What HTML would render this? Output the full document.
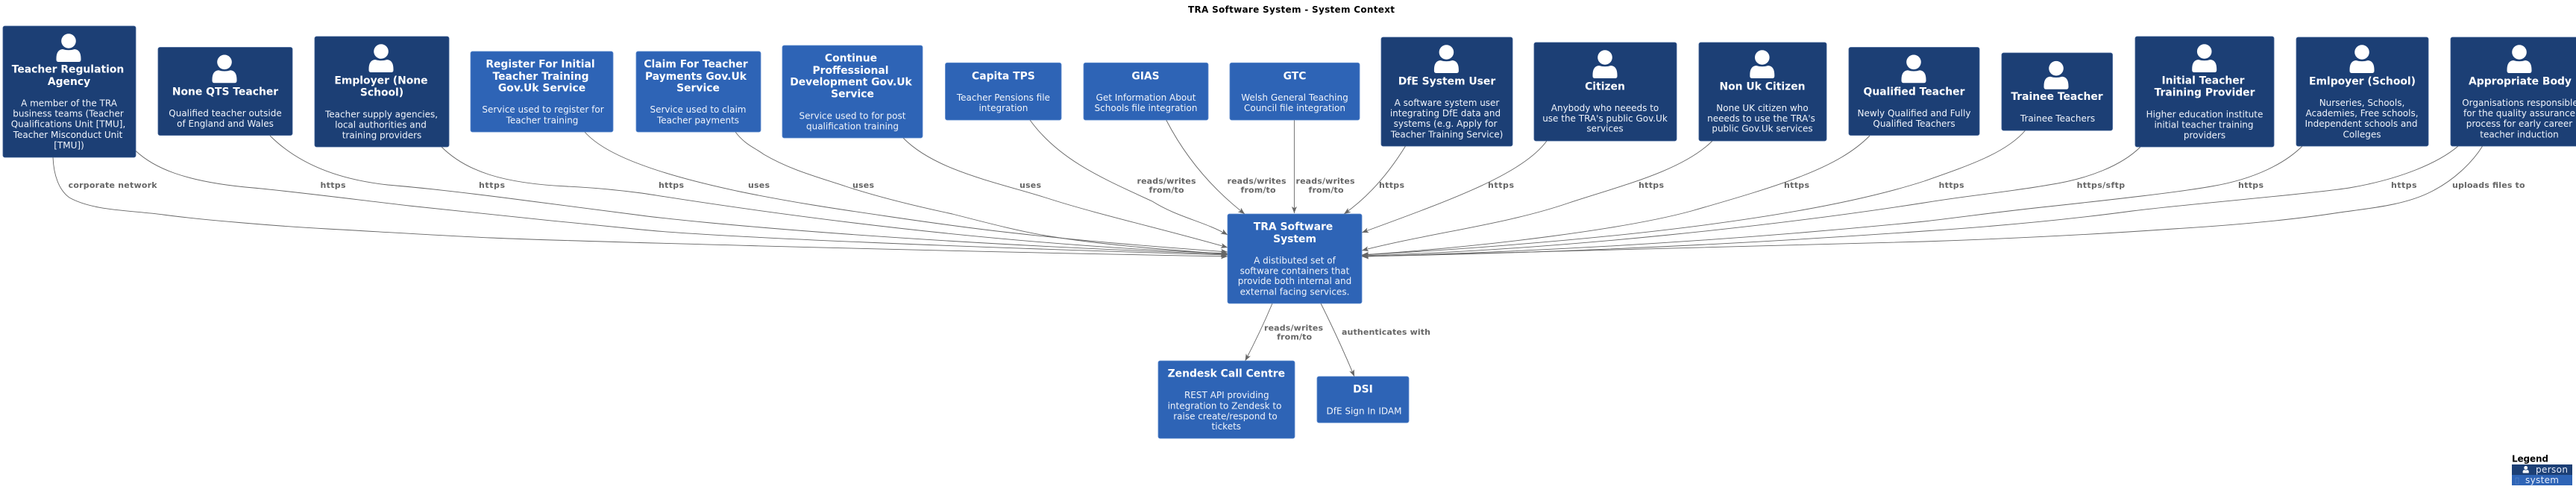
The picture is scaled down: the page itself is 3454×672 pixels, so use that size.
<!DOCTYPE html>
<html><head><meta charset="utf-8"><title>TRA Software System - System Context</title>
<style>
html,body{margin:0;padding:0;background:#fff;width:3454px;height:672px;overflow:hidden}
svg{display:block}
text{font-family:"DejaVu Sans","Liberation Sans",sans-serif}
.p{fill:#1c3f75;stroke:#3a5c92;stroke-width:.8}
.s{fill:#2e64b6;stroke:#5a88cc;stroke-width:.8}
.t{font-size:13.9px;font-weight:700;fill:#fff;text-anchor:middle}
.d{font-size:12px;fill:#f0f4fb;text-anchor:middle}
.l{font-size:11px;font-weight:700;fill:#666}
.m{text-anchor:middle}
.e path{fill:none;stroke:#666;stroke-width:.9;marker-end:url(#a)}
</style></head><body>
<svg width="3454" height="672" viewBox="0 0 3454 672" xmlns="http://www.w3.org/2000/svg">
<defs>
<marker id="a" markerWidth="10" markerHeight="8" refX="9" refY="3.5" orient="auto" markerUnits="userSpaceOnUse"><path d="M9 3.5L0 0L2.2 3.5L0 7Z" style="fill:#666;stroke:none"/></marker>
<g id="i"><circle cx="0" cy="0" r="9.8" fill="#fff"/><path d="M-16.5 24C-16.5 16-14 11.5-8 11Q0 13.5 8 11C14 11.5 16.5 16 16.5 24V25Q16.5 28 13.5 28H-13.5Q-16.5 28-16.5 25Z" fill="#fff"/></g>
</defs>
<text x="1731.5" y="17" font-size="12" font-weight="700" text-anchor="middle" textLength="277" fill="#000">TRA Software System - System Context</text>

<g class="e">
<path d="M71 211C72 235 79 255 93 265C125 283 175 282 219 288S365 303 439 307S590 316 658 319S1200 336 1646 344"/>
<path d="M181.5 202C205 224 245 244 340 252C385 256 480 268 548.5 276S760 298 860 308S1300 332 1646 342"/>
<path d="M362 182C395 215 445 240 520 248C580 253 660 263 713 270S800 281 860 289S1200 325 1646 341"/>
<path d="M592 197C625 230 675 246 760 250C800 252 830 255 860 259S1250 325 1646 340"/>
<path d="M784 177C800 195 830 210 860 221C900 236 945 247 992 257C1060 271 1120 280 1189 290C1250 299 1300 306 1354 312C1460 324 1550 331 1646 338"/>
<path d="M986 177C1000 195 1012 198 1024 207C1060 228 1095 237 1134 250C1180 265 1230 277 1277 287C1320 298 1365 310 1408 317C1490 330 1570 335 1646 341"/>
<path d="M1211 185C1255 230 1340 245 1408 267C1470 287 1570 310 1646 332"/>
<path d="M1381 161C1420 215 1480 240 1545 270C1580 292 1615 297 1646 315"/>
<path d="M1563.7 161Q1602 235 1669 287"/>
<path d="M1735.4 161V286"/>
<path d="M1884.5 196Q1848 255 1802 287"/>
<path d="M2074 189C2040 235 1940 270 1826 312"/>
<path d="M2296 189C2255 230 2170 250 2104 272C2020 301 1920 312 1826 336"/>
<path d="M2507 182C2465 225 2390 248 2268 283C2180 307 2000 330 1826 342"/>
<path d="M2715.5 175C2690 205 2640 222 2580 243C2490 272 2300 315 1826 342"/>
<path d="M2870 197C2845 222 2800 240 2747 248C2690 258 2640 262 2580 272C2400 300 2100 335 1826 343"/>
<path d="M3087 196C3065 218 3025 240 2965 250C2920 258 2830 268 2747 277C2680 284 2640 290 2580 297C2300 325 2050 338 1826 344"/>
<path d="M3296 196C3270 218 3220 240 3150 252C3100 260 2950 272 2859 283C2770 295 2670 304 2580 310C2300 330 2050 340 1826 344"/>
<path d="M3328.6 196C3315 218 3290 242 3260 257C3225 275 3180 279 3137 285C3060 297 2980 303 2914 307C2800 315 2700 320 2580 324C2300 333 2050 340 1826 344"/>
<path d="M1706 407Q1690 445 1669.6 484"/>
<path d="M1771 407Q1795 455 1816 505"/>
</g>

<text class="l" x="91.6" y="252" textLength="119">corporate network</text>
<text class="l" x="429.5" y="252" textLength="34">https</text>
<text class="l" x="642" y="252" textLength="35">https</text>
<text class="l" x="883" y="252" textLength="34">https</text>
<text class="l" x="1003" y="252" textLength="29">uses</text>
<text class="l" x="1143" y="252" textLength="29">uses</text>
<text class="l" x="1367" y="252" textLength="29">uses</text>
<text class="l m" x="1564" y="246.5" textLength="79">reads/writes</text>
<text class="l m" x="1564" y="258.5" textLength="47">from/to</text>
<text class="l m" x="1685" y="246.5" textLength="79">reads/writes</text>
<text class="l m" x="1687" y="258.5" textLength="47">from/to</text>
<text class="l m" x="1777" y="246.5" textLength="79">reads/writes</text>
<text class="l m" x="1778" y="258.5" textLength="47">from/to</text>
<text class="l" x="1849" y="252" textLength="34">https</text>
<text class="l" x="1995" y="252" textLength="35">https</text>
<text class="l" x="2197" y="252" textLength="34">https</text>
<text class="l" x="2392" y="252" textLength="34">https</text>
<text class="l" x="2599.5" y="252" textLength="34">https</text>
<text class="l" x="2784.6" y="252" textLength="64.5">https/sftp</text>
<text class="l" x="3001" y="252" textLength="34">https</text>
<text class="l" x="3206" y="252" textLength="34.5">https</text>
<text class="l" x="3288" y="252" textLength="97.5">uploads files to</text>
<text class="l m" x="1734.5" y="443.3" textLength="79">reads/writes</text>
<text class="l m" x="1735.6" y="455.3" textLength="47">from/to</text>
<text class="l" x="1799" y="449" textLength="119">authenticates with</text>

<!-- People -->
<rect class="p" x="4" y="35" width="178" height="176" rx="2.5"/><use href="#i" x="92" y="55"/>
<text class="t" x="91" y="97.7">Teacher Regulation</text><text class="t" x="92.5" y="114">Agency</text>
<text class="d" x="92.5" y="142.7">A member of the TRA</text><text class="d" x="91.5" y="156.7">business teams (Teacher</text><text class="d" x="91.5" y="170.7">Qualifications Unit [TMU],</text><text class="d" x="91" y="185">Teacher Misconduct Unit</text><text class="d" x="92.5" y="199">[TMU])</text>

<rect class="p" x="212" y="63.5" width="180" height="118" rx="2.5"/><use href="#i" x="301" y="83.3"/>
<text class="t" x="302" y="127.7">None QTS Teacher</text>
<text class="d" x="302" y="156">Qualified teacher outside</text><text class="d" x="302" y="170">of England and Wales</text>

<rect class="p" x="422" y="49" width="180" height="148" rx="2.5"/><use href="#i" x="511" y="69"/>
<text class="t" x="511" y="112.7">Employer (None</text><text class="t" x="512" y="128.3">School)</text>
<text class="d" x="511.5" y="157.3">Teacher supply agencies,</text><text class="d" x="510.5" y="171.7">local authorities and</text><text class="d" x="512" y="185.3">training providers</text>

<rect class="p" x="1852" y="50" width="176" height="146" rx="2.5"/><use href="#i" x="1939.4" y="70"/>
<text class="t" x="1940" y="113.3">DfE System User</text>
<text class="d" x="1940" y="142">A software system user</text><text class="d" x="1938" y="156">integrating DfE data and</text><text class="d" x="1938" y="170">systems (e.g. Apply for</text><text class="d" x="1940" y="184.3">Teacher Training Service)</text>

<rect class="p" x="2057" y="57" width="191" height="132" rx="2.5"/><use href="#i" x="2152" y="77"/>
<text class="t" x="2152" y="120.3">Citizen</text>
<text class="d" x="2152" y="149">Anybody who neeeds to</text><text class="d" x="2152" y="163">use the TRA's public Gov.Uk</text><text class="d" x="2152" y="176.7">services</text>

<rect class="p" x="2278" y="57" width="171" height="132" rx="2.5"/><use href="#i" x="2362.8" y="77"/>
<text class="t" x="2363" y="120.3">Non Uk Citizen</text>
<text class="d" x="2363" y="149">None UK citizen who</text><text class="d" x="2361.5" y="163">neeeds to use the TRA's</text><text class="d" x="2363" y="176.7">public Gov.Uk services</text>

<rect class="p" x="2479" y="63.5" width="175" height="118" rx="2.5"/><use href="#i" x="2566" y="83.3"/>
<text class="t" x="2566.5" y="127.7">Qualified Teacher</text>
<text class="d" x="2566.5" y="156">Newly Qualified and Fully</text><text class="d" x="2566.5" y="170">Qualified Teachers</text>

<rect class="p" x="2684" y="71" width="148.5" height="104" rx="2.5"/><use href="#i" x="2757" y="91.7"/>
<text class="t" x="2758" y="134">Trainee Teacher</text>
<text class="d" x="2759" y="163">Trainee Teachers</text>

<rect class="p" x="2863" y="49" width="186" height="148" rx="2.5"/><use href="#i" x="2955.7" y="69"/>
<text class="t" x="2954" y="112.7">Initial Teacher</text><text class="t" x="2956" y="128.3">Training Provider</text>
<text class="d" x="2956" y="157.3">Higher education institute</text><text class="d" x="2955" y="171.7">initial teacher training</text><text class="d" x="2956" y="185.3">providers</text>

<rect class="p" x="3079" y="50" width="177" height="146" rx="2.5"/><use href="#i" x="3167" y="70"/>
<text class="t" x="3167.5" y="113.3">Emlpoyer (School)</text>
<text class="d" x="3167" y="142">Nurseries, Schools,</text><text class="d" x="3167" y="156">Academies, Free schools,</text><text class="d" x="3166" y="170">Independent schools and</text><text class="d" x="3167" y="184.3">Colleges</text>

<rect class="p" x="3286" y="50" width="186" height="146" rx="2.5"/><use href="#i" x="3378" y="70"/>
<text class="t" x="3379" y="113.3">Appropriate Body</text>
<text class="d" x="3379" y="142">Organisations responsible</text><text class="d" x="3378" y="156">for the quality assurance</text><text class="d" x="3378" y="170">process for early career</text><text class="d" x="3378" y="184.3">teacher induction</text>

<!-- Systems -->
<rect class="s" x="631" y="69" width="191" height="108" rx="2.5"/>
<text class="t" x="724.5" y="90.7">Register For Initial</text><text class="t" x="725" y="107">Teacher Training</text><text class="t" x="726.5" y="122.3">Gov.Uk Service</text>
<text class="d" x="728" y="151">Service used to register for</text><text class="d" x="727" y="165.7">Teacher training</text>

<rect class="s" x="853" y="69" width="167" height="108" rx="2.5"/>
<text class="t" x="933" y="90.7">Claim For Teacher</text><text class="t" x="933" y="107">Payments Gov.Uk</text><text class="t" x="936" y="122.3">Service</text>
<text class="d" x="936" y="151">Service used to claim</text><text class="d" x="936" y="165.7">Teacher payments</text>

<rect class="s" x="1049" y="61" width="188" height="124" rx="2.5"/>
<text class="t" x="1141" y="82.7">Continue</text><text class="t" x="1140.5" y="99">Proffessional</text><text class="t" x="1141" y="114.3">Development Gov.Uk</text><text class="t" x="1143" y="130.7">Service</text>
<text class="d" x="1143" y="159.3">Service used to for post</text><text class="d" x="1143" y="173.7">qualification training</text>

<rect class="s" x="1267.5" y="84.3" width="155.5" height="76.7" rx="2.5"/>
<text class="t" x="1345.4" y="106.7">Capita TPS</text>
<text class="d" x="1345.4" y="135">Teacher Pensions file</text><text class="d" x="1345.4" y="149">integration</text>

<rect class="s" x="1453" y="84.3" width="167" height="76.7" rx="2.5"/>
<text class="t" x="1536" y="106.7">GIAS</text>
<text class="d" x="1536.5" y="135">Get Information About</text><text class="d" x="1536.5" y="149">Schools file integration</text>

<rect class="s" x="1649" y="84.3" width="174" height="76.7" rx="2.5"/>
<text class="t" x="1736" y="106.7">GTC</text>
<text class="d" x="1736" y="135">Welsh General Teaching</text><text class="d" x="1736" y="149">Council file integration</text>

<rect class="s" x="1646" y="287" width="180" height="120" rx="2.5"/>
<text class="t" x="1734" y="308.3">TRA Software</text><text class="t" x="1736" y="325">System</text>
<text class="d" x="1736" y="353.3">A distibuted set of</text><text class="d" x="1736" y="367.3">software containers that</text><text class="d" x="1736" y="381">provide both internal and</text><text class="d" x="1736" y="395.3">external facing services.</text>

<rect class="s" x="1553" y="484" width="183" height="104" rx="2.5"/>
<text class="t" x="1644.3" y="505.3">Zendesk Call Centre</text>
<text class="d" x="1644.8" y="534">REST API providing</text><text class="d" x="1642" y="548.3">integration to Zendesk to</text><text class="d" x="1643" y="562.3">raise create/respond to</text><text class="d" x="1644.3" y="576">tickets</text>

<rect class="s" x="1766" y="505" width="123" height="62" rx="2.5"/>
<text class="t" x="1827.5" y="526.7">DSI</text>
<text class="d" x="1829" y="555.7">DfE Sign In IDAM</text>

<!-- Legend -->
<text x="3368" y="619.3" font-size="12" font-weight="700" fill="#000" textLength="49">Legend</text>
<rect x="3368" y="623" width="81" height="14" fill="#1c3f75"/>
<rect x="3368" y="637" width="81" height="14" fill="#2e64b6"/>
<g transform="translate(3386.7 627.5) scale(.25)"><use href="#i"/></g>
<text x="3400" y="634" font-size="12" fill="#e8eefb" textLength="43">person</text>
<rect x="3373" y="641" width="4" height="8" fill="none" stroke="#5a88cc" stroke-width=".6"/>
<text x="3386" y="648" font-size="12" fill="#e8eefb" textLength="45">system</text>
</svg>
</body></html>
